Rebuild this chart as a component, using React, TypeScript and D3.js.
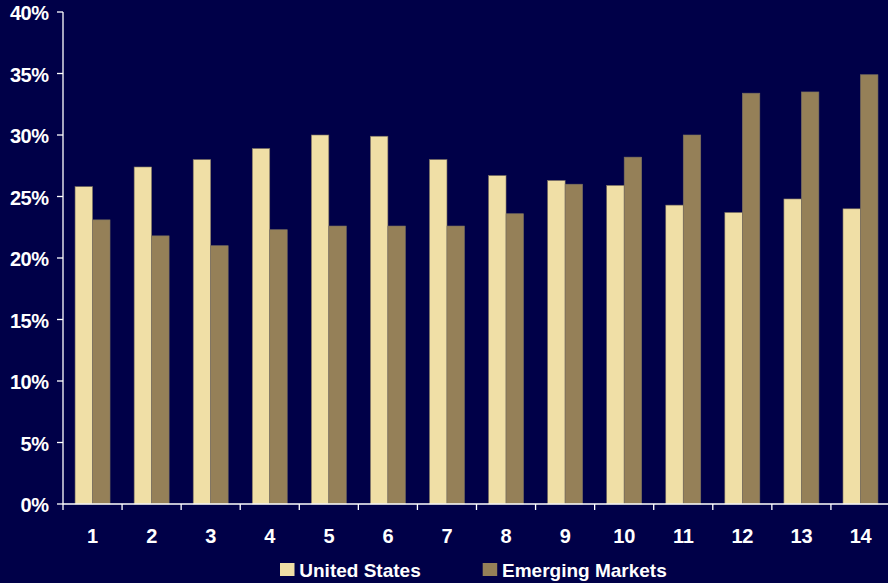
import React from "react";
import * as d3 from "d3";

const categories = ["1", "2", "3", "4", "5", "6", "7", "8", "9", "10", "11", "12", "13", "14"];
const unitedStates = [25.8, 27.4, 28.0, 28.9, 30.0, 29.9, 28.0, 26.7, 26.3, 25.9, 24.3, 23.7, 24.8, 24.0];
const emergingMarkets = [23.1, 21.8, 21.0, 22.3, 22.6, 22.6, 22.6, 23.6, 26.0, 28.2, 30.0, 33.4, 33.5, 34.9];
const yTicks = [0, 5, 10, 15, 20, 25, 30, 35, 40];
const seriesNames = ["United States", "Emerging Markets"];

const W = 888;
const H = 583;
const BG = "#000048";
const US_COLOR = "#F0DFA6";
const EM_COLOR = "#958058";
const FONT = "'Liberation Sans', Arial, sans-serif";

export default function App() {
  const left = 63;
  const right = 890;
  const top = 12;
  const bottom = 504;

  const x = d3.scaleBand<string>().domain(categories).range([left, right]).paddingInner(0).paddingOuter(0);
  const y = d3.scaleLinear().domain([0, 40]).range([bottom, top]);
  const bw = x.bandwidth();
  const barW = bw * 0.296;
  const groupOff = (bw - 2 * barW) / 2;

  const series = [
    { name: seriesNames[0], values: unitedStates, color: US_COLOR },
    { name: seriesNames[1], values: emergingMarkets, color: EM_COLOR },
  ];

  return (
    <div style={{ position: "fixed", left: 0, top: 0, width: W, height: H, overflow: "hidden" }}>
      <svg width={W} height={H} style={{ display: "block" }}>
        <rect x={0} y={0} width={W} height={H} fill={BG} />
        {series.map((s, si) =>
          s.values.map((v, i) => {
            const bx = (x(categories[i]) as number) + groupOff + si * barW;
            return (
              <rect
                key={`${si}-${i}`}
                x={bx}
                y={y(v)}
                width={barW}
                height={bottom - y(v)}
                fill={s.color}
                stroke="#7a7060"
                strokeWidth={0.6}
              />
            );
          })
        )}
        {/* y axis */}
        <line x1={left} x2={left} y1={top} y2={bottom} stroke="#ffffff" strokeWidth={1.3} />
        {yTicks.map((t) => (
          <g key={t}>
            <line x1={left - 6} x2={left} y1={y(t)} y2={y(t)} stroke="#ffffff" strokeWidth={1.3} />
            <text
              x={48.5}
              y={y(t)}
              dy="0.42em"
              textAnchor="end"
              fill="#ffffff"
              fontFamily={FONT}
              fontWeight="bold"
              fontSize={20}
              letterSpacing={-0.5}
            >
              {t}%
            </text>
          </g>
        ))}
        {/* x axis */}
        <line x1={left} x2={W} y1={bottom} y2={bottom} stroke="#ffffff" strokeWidth={1.3} />
        {categories.map((c) => (
          <g key={c}>
            <line
              x1={x(c) as number}
              x2={x(c) as number}
              y1={bottom}
              y2={bottom + 6}
              stroke="#ffffff"
              strokeWidth={1.3}
            />
            <text
              x={(x(c) as number) + bw / 2}
              y={535.5}
              dy="0.36em"
              textAnchor="middle"
              fill="#ffffff"
              fontFamily={FONT}
              fontWeight="bold"
              fontSize={20}
              letterSpacing={-0.3}
            >
              {c}
            </text>
          </g>
        ))}
        {/* legend */}
        {series.map((s, si) => {
          const lx = si === 0 ? 280 : 482.7;
          return (
            <g key={s.name}>
              <rect x={lx} y={563} width={14.5} height={13} fill={s.color} />
              <text
                x={lx + 19.3}
                y={577}
                fill="#ffffff"
                fontFamily={FONT}
                fontWeight="bold"
                fontSize={19}
              >
                {s.name}
              </text>
            </g>
          );
        })}
      </svg>
    </div>
  );
}
